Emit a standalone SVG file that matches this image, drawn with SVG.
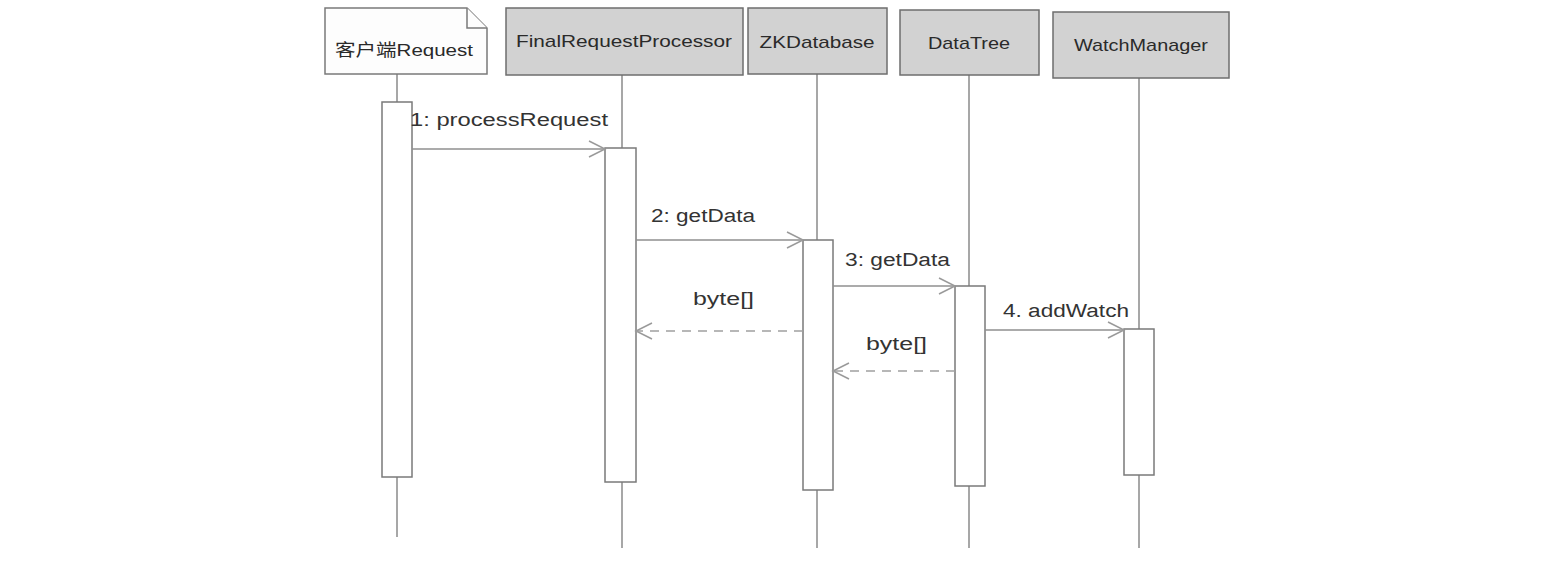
<svg xmlns="http://www.w3.org/2000/svg" width="1557" height="562" viewBox="0 0 1557 562">
<style>
.box{fill:#d2d2d2;stroke:#6e6e6e;stroke-width:1.5}
.note{fill:#fdfdfd;stroke:#7a7a7a;stroke-width:1.5}
.life{stroke:#8a8a8a;stroke-width:1.5;fill:none}
.act{fill:#ffffff;stroke:#7a7a7a;stroke-width:1.5}
.msg{stroke:#8f8f8f;stroke-width:1.5;fill:none}
.ret{stroke:#a0a0a0;stroke-width:1.5;fill:none;stroke-dasharray:9 7}
.t{font-family:"Liberation Sans","Noto Sans CJK SC",Arial,sans-serif;font-size:17px;fill:#2a2a2a}
.lbl{font-family:"Liberation Sans",Arial,sans-serif;font-size:18px;fill:#333}
</style>
<defs>
<marker id="arr" markerWidth="20" markerHeight="20" refX="18" refY="10" orient="auto" markerUnits="userSpaceOnUse">
<path d="M2,2 L18,10 L2,18" fill="none" stroke="#9a9a9a" stroke-width="1.5"/>
</marker>
</defs>
<rect width="1557" height="562" fill="#ffffff"/>

<g id="lifelines">
<line class="life" x1="397" y1="74" x2="397" y2="537"/>
<line class="life" x1="622" y1="75" x2="622" y2="548"/>
<line class="life" x1="817" y1="74" x2="817" y2="548"/>
<line class="life" x1="969" y1="75" x2="969" y2="548"/>
<line class="life" x1="1139" y1="78" x2="1139" y2="548"/>
</g>

<g id="client">
<path class="note" d="M325,8 H467 L487,28 V74 H325 Z"/>
<path class="note" d="M467,8 V28 H487" fill="none"/>
<text class="t" x="404" y="56" text-anchor="middle" textLength="138" lengthAdjust="spacingAndGlyphs">客户端Request</text>
<rect class="act" x="382" y="102" width="30" height="375"/>
</g>

<g id="finalRequestProcessor">
<rect class="box" x="506" y="8" width="237" height="67"/>
<text class="t" x="624" y="47" text-anchor="middle" textLength="216" lengthAdjust="spacingAndGlyphs">FinalRequestProcessor</text>
<rect class="act" x="605" y="148" width="31" height="334"/>
</g>

<g id="zkDatabase">
<rect class="box" x="748" y="8" width="139" height="66"/>
<text class="t" x="817" y="48" text-anchor="middle" textLength="115" lengthAdjust="spacingAndGlyphs">ZKDatabase</text>
<rect class="act" x="803" y="240" width="30" height="250"/>
</g>

<g id="dataTree">
<rect class="box" x="900" y="10" width="139" height="65"/>
<text class="t" x="969" y="49" text-anchor="middle" textLength="82" lengthAdjust="spacingAndGlyphs">DataTree</text>
<rect class="act" x="955" y="286" width="30" height="200"/>
</g>

<g id="watchManager">
<rect class="box" x="1053" y="12" width="176" height="66"/>
<text class="t" x="1141" y="51" text-anchor="middle" textLength="134" lengthAdjust="spacingAndGlyphs">WatchManager</text>
<rect class="act" x="1124" y="329" width="30" height="146"/>
</g>

<g id="connectors">
<line class="msg" x1="412" y1="149" x2="605" y2="149" marker-end="url(#arr)"/>
<text class="lbl" x="410" y="126" textLength="198" lengthAdjust="spacingAndGlyphs">1: processRequest</text>
<line class="msg" x1="636" y1="240" x2="803" y2="240" marker-end="url(#arr)"/>
<text class="lbl" x="651" y="222" textLength="104" lengthAdjust="spacingAndGlyphs">2: getData</text>
<line class="msg" x1="833" y1="286" x2="955" y2="286" marker-end="url(#arr)"/>
<text class="lbl" x="845" y="266" textLength="105" lengthAdjust="spacingAndGlyphs">3: getData</text>
<line class="ret" x1="803" y1="331" x2="636" y2="331" marker-end="url(#arr)"/>
<text class="lbl" x="693" y="305" textLength="61" lengthAdjust="spacingAndGlyphs">byte[]</text>
<line class="ret" x1="955" y1="371" x2="833" y2="371" marker-end="url(#arr)"/>
<text class="lbl" x="866" y="350" textLength="61" lengthAdjust="spacingAndGlyphs">byte[]</text>
<line class="msg" x1="985" y1="330" x2="1124" y2="330" marker-end="url(#arr)"/>
<text class="lbl" x="1003" y="317" textLength="126" lengthAdjust="spacingAndGlyphs">4. addWatch</text>
</g>
</svg>
